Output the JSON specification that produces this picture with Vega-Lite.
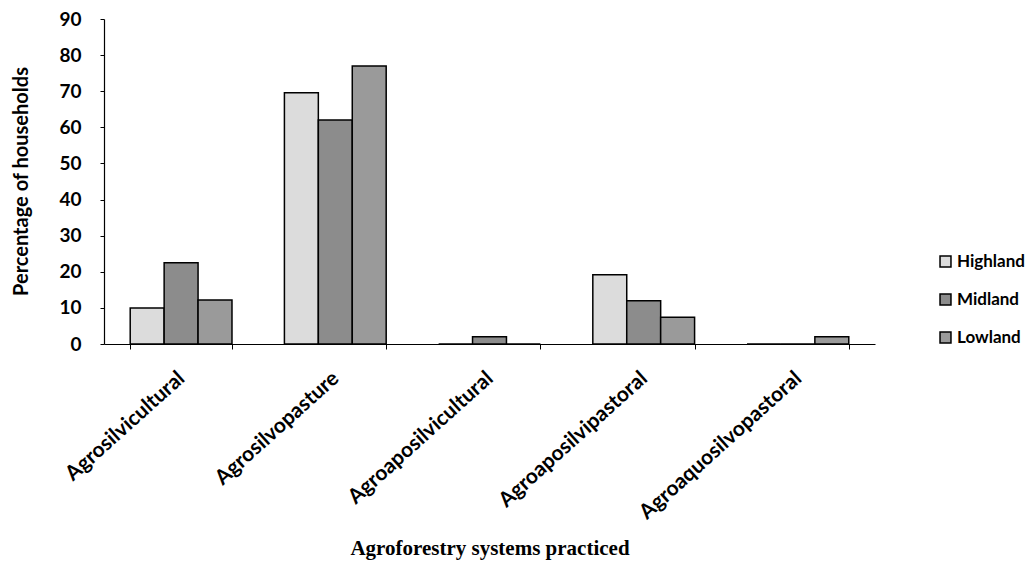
{
  "$schema": "https://vega.github.io/schema/vega-lite/v6.json",
  "autosize": {"type": "none"},
  "padding": {"left": 104, "top": 19, "right": 155, "bottom": 237},
  "width": 771,
  "height": 325,
  "background": "white",
  "config": {"view": {"stroke": null}},
  "data": {"values": [
    {"System": "Agrosilvicultural", "Region": "Highland", "Pct": 10},
    {"System": "Agrosilvicultural", "Region": "Midland", "Pct": 22.5},
    {"System": "Agrosilvicultural", "Region": "Lowland", "Pct": 12.2},
    {"System": "Agrosilvopasture", "Region": "Highland", "Pct": 69.6},
    {"System": "Agrosilvopasture", "Region": "Midland", "Pct": 62},
    {"System": "Agrosilvopasture", "Region": "Lowland", "Pct": 77},
    {"System": "Agroaposilvicultural", "Region": "Highland", "Pct": 0},
    {"System": "Agroaposilvicultural", "Region": "Midland", "Pct": 2},
    {"System": "Agroaposilvicultural", "Region": "Lowland", "Pct": 0},
    {"System": "Agroaposilvipastoral", "Region": "Highland", "Pct": 19.2},
    {"System": "Agroaposilvipastoral", "Region": "Midland", "Pct": 12},
    {"System": "Agroaposilvipastoral", "Region": "Lowland", "Pct": 7.4},
    {"System": "Agroaquosilvopastoral", "Region": "Highland", "Pct": 0},
    {"System": "Agroaquosilvopastoral", "Region": "Midland", "Pct": 0},
    {"System": "Agroaquosilvopastoral", "Region": "Lowland", "Pct": 2}
  ]},
  "mark": {"type": "bar", "stroke": "black", "strokeWidth": 1.5},
  "encoding": {
    "x": {
      "field": "System", "type": "nominal", "sort": null,
      "scale": {"paddingInner": 0.34, "paddingOuter": 0.17},
      "axis": {
        "title": "Agroforestry systems practiced",
        "titleFont": "Liberation Serif", "titleFontSize": 21, "titleFontWeight": "bold",
        "titleColor": "black", "titleY": 204, "titleBaseline": "middle",
        "labelAngle": -42, "labelFont": "Lato", "labelFontSize": 21, "labelFontWeight": "bold",
        "labelColor": "black", "labelPadding": 18, "labelOffset": -7, "labelLimit": 0, "labelOverlap": false,
        "tickBand": "extent", "tickSize": 5, "tickColor": "black",
        "domainColor": "black", "domainWidth": 1.2
      }
    },
    "xOffset": {"field": "Region", "type": "nominal", "sort": ["Highland", "Midland", "Lowland"], "scale": {"paddingInner": 0, "paddingOuter": 0}},
    "y": {
      "field": "Pct", "type": "quantitative",
      "scale": {"domain": [0, 90], "nice": false},
      "axis": {
        "title": "Percentage of households",
        "titleFont": "Lato", "titleFontSize": 20, "titleFontWeight": "bold", "titleColor": "black",
        "titleX": -83, "titleY": 162, "titleAngle": -90, "titleAlign": "center", "titleBaseline": "middle",
        "values": [0, 10, 20, 30, 40, 50, 60, 70, 80, 90],
        "labelFont": "Lato", "labelFontSize": 19, "labelFontWeight": "bold", "labelColor": "black",
        "labelPadding": 19, "tickSize": 4, "tickColor": "black",
        "grid": false, "domainColor": "black", "domainWidth": 1.2
      }
    },
    "fill": {
      "field": "Region", "type": "nominal", "sort": ["Highland", "Midland", "Lowland"],
      "scale": {"domain": ["Highland", "Midland", "Lowland"], "range": ["#dcdcdc", "#8c8c8c", "#9a9a9a"]},
      "legend": {
        "title": null, "orient": "none", "legendX": 833, "legendY": 234,
        "symbolType": "square", "symbolSize": 120, "symbolStrokeColor": "black", "symbolStrokeWidth": 1.5,
        "labelFont": "Lato", "labelFontSize": 17, "labelFontWeight": "bold", "labelColor": "black",
        "labelLimit": 0, "rowPadding": 20, "labelOffset": 3
      }
    }
  }
}
